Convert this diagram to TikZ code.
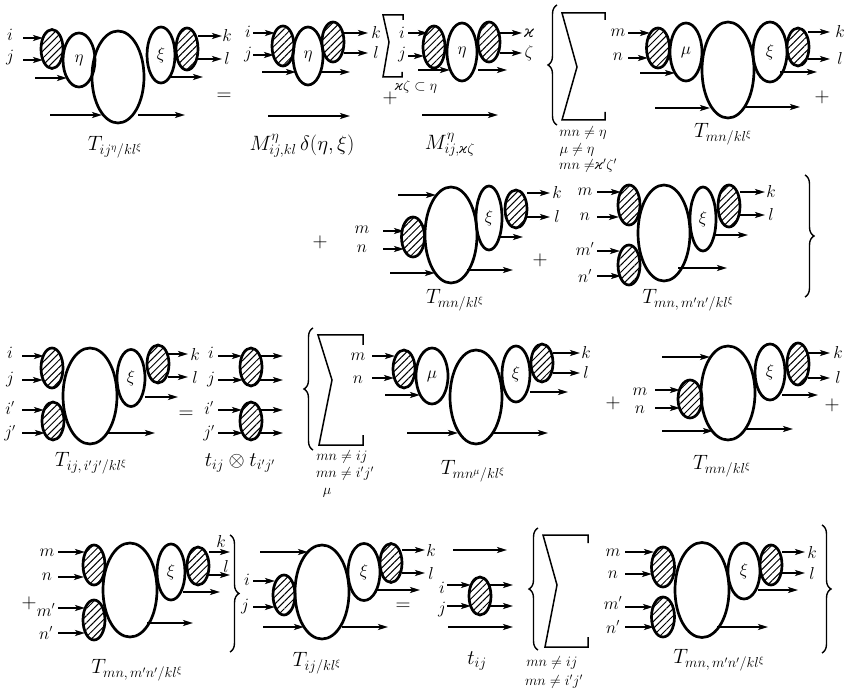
\documentclass[tikz,border=0pt]{standalone}
\usepackage{fontspec}
\newfontfamily\grk{DejaVu Serif}
\newcommand\vk[1]{\mbox{\fontsize{#1}{#1}\selectfont\grk\itshape ϰ}}
\usetikzlibrary{shapes.geometric,patterns.meta,arrows.meta,decorations.pathreplacing}
\newcommand\HatE[5]{\node[hatchell,minimum width=#4pt,minimum height=#5pt] (#1) at (#2,#3) {};}
\newcommand\OvE[6]{\node[ovalE,minimum width=#4pt,minimum height=#5pt] (#1) at (#2,#3) {#6};}
\newcommand\LbL[4]{\node[lab] (#1) at (#2,#3) {$#4$};}
\newcommand\ArH[3]{\draw[arr] (#1,#3) -- (#2,#3);}
\begin{document}
\begin{tikzpicture}[x=1pt,y=-1pt,
  ovalE/.style={draw,ellipse,line width=2.7pt,inner sep=0pt,font=\fontsize{17}{19}\selectfont},
  hatchell/.style={ovalE,pattern={Lines[angle=45,distance=5pt,line width=1pt]}},
  arr/.style={line width=1.8pt,-{Stealth[length=10pt,width=6pt,inset=2.5pt]}},
  lab/.style={inner sep=0pt,font=\fontsize{16}{18}\selectfont},
  tlab/.style={inner sep=0pt,font=\fontsize{20}{22}\selectfont},
  slab/.style={inner sep=0pt,font=\fontsize{14}{16}\selectfont},
  sym/.style={inner sep=0pt,font=\fontsize{20}{22}\selectfont},
  sumsign/.style={line width=1.5pt,line join=miter},
  bracestyle/.style={decorate,decoration={brace,amplitude=9pt},line width=1.4pt}]
\useasboundingbox[fill=white] (0,0) rectangle (847,695);

% ---------- D1 ----------
\HatE{d1a}{52}{49}{22}{39}
\OvE{d1b}{79}{60}{32}{54}{$\eta$}
\OvE{d1c}{118}{77}{52}{92}{}
\OvE{d1d}{161}{55}{28}{56}{$\xi$}
\HatE{d1e}{187}{49}{22}{42}
\LbL{d1i}{10}{35}{i}\LbL{d1j}{10}{58}{j}
\LbL{d1k}{227}{36}{k}\LbL{d1l}{227}{59}{l}
\ArH{23}{43}{38}\ArH{23}{43}{60}
\ArH{35}{67}{78}
\ArH{198}{222}{36}\ArH{198}{222}{59}
\ArH{170}{203}{77}
\ArH{50}{102}{115}\ArH{138}{185}{115}
\node[tlab] (t1) at (115,147) {$T_{ij^{\eta}/kl^{\xi}}$};
\node[sym] (eq1) at (224,97) {$=$};

% ---------- D2 ----------
\HatE{d2a}{283}{46}{22}{40}
\OvE{d2b}{308}{56}{30}{58}{$\eta$}
\HatE{d2c}{333}{42}{22}{40}
\LbL{d2i}{248}{32}{i}\LbL{d2j}{248}{55}{j}
\LbL{d2k}{376}{33}{k}\LbL{d2l}{376}{53}{l}
\ArH{253}{275}{33}\ArH{253}{274}{55}
\ArH{262}{296}{72}
\ArH{344}{368}{33}\ArH{344}{368}{53}
\ArH{320}{350}{72}
\ArH{268}{350}{116}
\node[tlab] (t2) at (302,146) {$M^{\eta}_{ij,kl}\,\delta(\eta,\xi)$};

% ---------- D3 ----------
\draw[sumsign] (403,20) -- (403,15) -- (383,15) -- (389,42) -- (383,77) -- (402,77) -- (402,72);
\HatE{d3a}{434}{47}{22}{42}
\OvE{d3b}{462}{52}{30}{58}{$\eta$}
\HatE{d3c}{489}{42}{22}{40}
\LbL{d3i}{402}{33}{i}\LbL{d3j}{402}{55}{j}
\node[lab] (d3k) at (529,33) {\vk{16}};
\LbL{d3l}{529}{53}{\zeta}
\ArH{408}{428}{33}\ArH{408}{424}{56}
\ArH{418}{450}{70}
\ArH{500}{522}{33}\ArH{500}{522}{53}
\ArH{478}{507}{70}
\ArH{422}{498}{115}
\node[slab] (s3) at (416,87) {\vk{13}$\zeta\subset\eta$};
\node[sym] (p3) at (390,98) {$+$};
\node[tlab] (t3) at (450,145) {$M^{\eta}_{ij,\vk{13}\zeta}$};

% ---------- D4 ----------
\draw[bracestyle] (557,125) -- (557,5);
\draw[sumsign] (605,20) -- (605,13) -- (562,13) -- (577,67) -- (562,120) -- (605,120) -- (605,112);
\node[slab] (s4a) at (583,133) {$mn\neq\eta$};
\node[slab] (s4b) at (577,150) {$\mu\neq\eta$};
\node[slab] (s4c) at (588,166) {$mn\neq$\vk{13}$'\zeta'$};
\HatE{d4a}{658}{48}{23}{40}
\OvE{d4b}{686}{52}{32}{58}{$\mu$}
\OvE{d4c}{728}{70}{52}{96}{}
\OvE{d4d}{770}{52}{34}{60}{$\xi$}
\HatE{d4e}{798}{47}{22}{38}
\LbL{d4m}{618}{33}{m}\LbL{d4n}{618}{57}{n}
\LbL{d4k}{840}{32}{k}\LbL{d4l}{840}{59}{l}
\ArH{628}{650}{33}\ArH{628}{648}{58}
\ArH{640}{675}{73}
\ArH{808}{830}{32}\ArH{808}{830}{59}
\ArH{780}{817}{72}
\ArH{655}{710}{108}\ArH{745}{800}{107}
\node[sym] (p4) at (822,97) {$+$};
\node[tlab] (t4) at (723,134) {$T_{mn/kl^{\xi}}$};

% ---------- D5 ----------
\node[sym] (p5a) at (320,242) {$+$};
\HatE{d5a}{413}{237}{23}{40}
\OvE{d5b}{451}{235}{52}{96}{}
\OvE{d5c}{489}{218}{26}{64}{$\xi$}
\HatE{d5d}{516}{209}{22}{38}
\LbL{d5m}{362}{230}{m}\LbL{d5n}{362}{249}{n}
\LbL{d5k}{557}{193}{k}\LbL{d5l}{557}{217}{l}
\ArH{383}{404}{231}\ArH{383}{404}{249}
\ArH{398}{436}{195}
\ArH{390}{435}{273}\ArH{467}{513}{270}
\ArH{498}{523}{237}
\ArH{527}{550}{193}\ArH{527}{550}{217}
\node[tlab] (t5) at (455,300) {$T_{mn/kl^{\xi}}$};
\node[sym] (p5b) at (540,260) {$+$};

% ---------- D6 ----------
\HatE{d6a}{629}{205}{22}{40}
\HatE{d6b}{629}{265}{22}{40}
\OvE{d6c}{664}{233}{52}{96}{}
\OvE{d6d}{703}{219}{26}{64}{$\xi$}
\HatE{d6e}{729}{206}{22}{42}
\LbL{d6m}{585}{192}{m}\LbL{d6n}{585}{217}{n}
\LbL{d6mp}{585}{249}{m'}\LbL{d6np}{585}{276}{n'}
\LbL{d6k}{771}{192}{k}\LbL{d6l}{771}{215}{l}
\ArH{597}{621}{192}\ArH{597}{619}{217}\ArH{597}{620}{251}\ArH{597}{621}{276}
\ArH{740}{765}{192}\ArH{740}{765}{215}
\ArH{713}{748}{235}
\ArH{678}{727}{268}
\node[tlab] (t6) at (688,300) {$T_{mn,\,m'n'/kl^{\xi}}$};
\draw[bracestyle] (805,175) -- (805,297);

% ---------- D7 ----------
\HatE{d7a}{52}{368}{22}{40}
\HatE{d7b}{53}{421}{22}{38}
\OvE{d7c}{90}{396}{54}{96}{}
\OvE{d7d}{131}{378}{28}{57}{$\xi$}
\HatE{d7e}{158}{364}{22}{38}
\LbL{d7i}{10}{353}{i}\LbL{d7j}{10}{380}{j}
\LbL{d7ip}{10}{408}{i'}\LbL{d7jp}{10}{433}{j'}
\LbL{d7k}{195}{354}{k}\LbL{d7l}{195}{378}{l}
\ArH{22}{44}{356}\ArH{22}{43}{380}\ArH{22}{44}{410}\ArH{22}{45}{433}
\ArH{168}{188}{354}\ArH{168}{188}{377}
\ArH{145}{178}{397}
\ArH{107}{155}{433}
\node[tlab] (t7) at (91,463) {$T_{ij,\,i'j'/kl^{\xi}}$};
\node[sym] (eq7) at (186,415) {$=$};

% ---------- D8 ----------
\HatE{d8a}{251}{367}{22}{38}
\HatE{d8b}{251}{421}{22}{38}
\LbL{d8i}{211}{353}{i}\LbL{d8j}{211}{380}{j}
\LbL{d8ip}{209}{408}{i'}\LbL{d8jp}{209}{433}{j'}
\ArH{218}{242}{356}\ArH{218}{243}{380}\ArH{218}{242}{410}\ArH{218}{243}{433}
\ArH{260}{283}{356}\ArH{259}{283}{380}\ArH{260}{283}{410}\ArH{259}{283}{433}
\node[tlab] (t8) at (240,463) {$t_{ij}\otimes t_{i'j'}$};

% ---------- D9 ----------
\draw[bracestyle] (313,450) -- (313,328);
\draw[sumsign] (363,345) -- (363,335) -- (318,335) -- (332,380) -- (319,445) -- (363,445) -- (363,435);
\node[slab] (s9a) at (342,457) {$mn\neq ij$};
\node[slab] (s9b) at (345,474) {$mn\neq i'j'$};
\node[slab] (s9c) at (327,493) {$\mu$};
\HatE{d9a}{404}{369}{22}{38}
\OvE{d9b}{432}{376}{32}{56}{$\mu$}
\OvE{d9c}{476}{397}{52}{94}{}
\OvE{d9d}{516}{374}{28}{56}{$\xi$}
\HatE{d9e}{542}{363}{22}{38}
\LbL{d9m}{358}{357}{m}\LbL{d9n}{358}{380}{n}
\LbL{d9k}{586}{353}{k}\LbL{d9l}{586}{373}{l}
\ArH{372}{395}{356}\ArH{372}{394}{378}
\ArH{385}{420}{395}
\ArH{407}{458}{433}\ArH{493}{548}{433}
\ArH{530}{568}{392}
\ArH{553}{580}{353}\ArH{553}{580}{373}
\node[tlab] (t9) at (473,471) {$T_{mn^{\mu}/kl^{\xi}}$};

% ---------- D10 ----------
\node[sym] (p10a) at (613,403) {$+$};
\HatE{d10a}{690}{399}{24}{38}
\OvE{d10b}{728}{393}{54}{94}{}
\OvE{d10c}{770}{372}{30}{56}{$\xi$}
\HatE{d10d}{798}{364}{22}{42}
\LbL{d10m}{640}{392}{m}\LbL{d10n}{640}{410}{n}
\LbL{d10k}{838}{353}{k}\LbL{d10l}{838}{378}{l}
\ArH{655}{680}{390}\ArH{655}{680}{408}
\ArH{662}{710}{357}
\ArH{662}{713}{431}\ArH{745}{793}{429}
\ArH{782}{818}{395}
\ArH{808}{830}{353}\ArH{808}{830}{378}
\node[sym] (p10b) at (832,405) {$+$};
\node[tlab] (t10) at (722,466) {$T_{mn/kl^{\xi}}$};

% ---------- D11 ----------
\HatE{d11a}{94}{565}{22}{40}
\HatE{d11b}{94}{620}{22}{40}
\OvE{d11c}{130}{590}{54}{94}{}
\OvE{d11d}{171}{572}{28}{56}{$\xi$}
\HatE{d11e}{198}{566}{22}{38}
\LbL{d11m}{47}{553}{m}\LbL{d11n}{47}{577}{n}
\LbL{d11mp}{46}{610}{m'}\LbL{d11np}{46}{633}{n'}
\node[sym] (p11) at (29,603) {$+$};
\LbL{d11k}{221}{541}{k}\LbL{d11l}{226}{566}{l}
\ArH{58}{85}{552}\ArH{58}{84}{577}\ArH{58}{85}{608}\ArH{58}{85}{633}
\ArH{209}{230}{552}\ArH{209}{230}{575}
\ArH{183}{220}{592}
\ArH{147}{193}{623}
\draw[bracestyle] (230,535) -- (230,652);
\node[tlab] (t11) at (137,670) {$T_{mn,\,m'n'/kl^{\xi}}$};

% ---------- D12 ----------
\HatE{d12a}{284}{595}{22}{40}
\OvE{d12b}{322}{592}{54}{94}{}
\OvE{d12c}{364}{572}{32}{57}{$\xi$}
\HatE{d12d}{391}{563}{22}{39}
\LbL{d12i}{247}{580}{i}\LbL{d12j}{245}{607}{j}
\LbL{d12k}{431}{550}{k}\LbL{d12l}{431}{573}{l}
\ArH{253}{275}{581}\ArH{253}{275}{607}
\ArH{260}{308}{552}\ArH{263}{304}{627}
\ArH{402}{425}{550}\ArH{402}{425}{573}
\ArH{377}{420}{590}
\ArH{342}{388}{627}
\node[tlab] (t12) at (317,663) {$T_{ij/kl^{\xi}}$};
\node[sym] (eq12) at (403,607) {$=$};

% ---------- D13 ----------
\HatE{d13a}{480}{596}{22}{38}
\LbL{d13i}{442}{588}{i}\LbL{d13j}{442}{610}{j}
\ArH{453}{507}{550}
\ArH{447}{471}{585}\ArH{447}{471}{606}
\ArH{489}{513}{585}\ArH{489}{513}{606}
\ArH{448}{513}{627}
\node[tlab] (t13) at (477,661) {$t_{ij}$};

% ---------- D14 ----------
\draw[bracestyle] (538,650) -- (538,528);
\draw[sumsign] (588,543) -- (588,535) -- (543,535) -- (557,585) -- (545,647) -- (588,647) -- (588,637);
\node[slab] (s14a) at (552,663) {$mn\neq ij$};
\node[slab] (s14b) at (554,682) {$mn\neq i'j'$};
\HatE{d14a}{663}{567}{23}{40}
\HatE{d14b}{663}{617}{23}{40}
\OvE{d14c}{702}{590}{54}{95}{}
\OvE{d14d}{744}{571}{32}{56}{$\xi$}
\HatE{d14e}{771}{565}{22}{40}
\LbL{d14m}{613}{553}{m}\LbL{d14n}{613}{575}{n}
\LbL{d14mp}{613}{603}{m'}\LbL{d14np}{613}{627}{n'}
\LbL{d14k}{812}{552}{k}\LbL{d14l}{812}{573}{l}
\ArH{625}{654}{552}\ArH{625}{652}{574}\ArH{625}{653}{607}\ArH{625}{654}{627}
\ArH{782}{805}{552}\ArH{782}{805}{573}
\ArH{758}{798}{590}
\ArH{717}{768}{627}
\draw[bracestyle] (822,525) -- (822,653);
\node[tlab] (t14) at (719,660) {$T_{mn,\,m'n'/kl^{\xi}}$};
\end{tikzpicture}
\end{document}
